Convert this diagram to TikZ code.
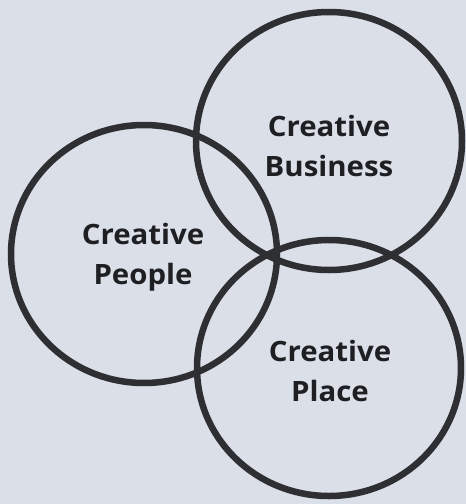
\documentclass[tikz,border=0pt]{standalone}
\usepackage{fontspec}
\newfontfamily\labfont{Open Sans}[FakeStretch=1.05]
\definecolor{bg}{HTML}{DADFE8}
\definecolor{ring}{HTML}{2E2F33}
\definecolor{txt}{HTML}{1E1F22}
\begin{document}
\begin{tikzpicture}[x=1pt,y=-1pt,
  ring/.style={draw=ring,line width=6.5pt},
  lab/.style={font=\labfont\bfseries\fontsize{28}{40}\selectfont,text=txt,align=center,inner sep=0pt}]
\fill[bg] (0,0) rectangle (466,504);
\useasboundingbox (0,0) rectangle (466,504);
\draw[ring] (329,141) ellipse [x radius=133, y radius=129];
\draw[ring] (144,254) ellipse [x radius=133, y radius=129];
\draw[ring] (329,368) ellipse [x radius=132, y radius=128];
\node[lab] (business) at (329,146) {Creative\\Business};
\node[lab] (people) at (143,257) {Creative\\People};
\node[lab] (place) at (330,371) {Creative\\Place};
\end{tikzpicture}
\end{document}
